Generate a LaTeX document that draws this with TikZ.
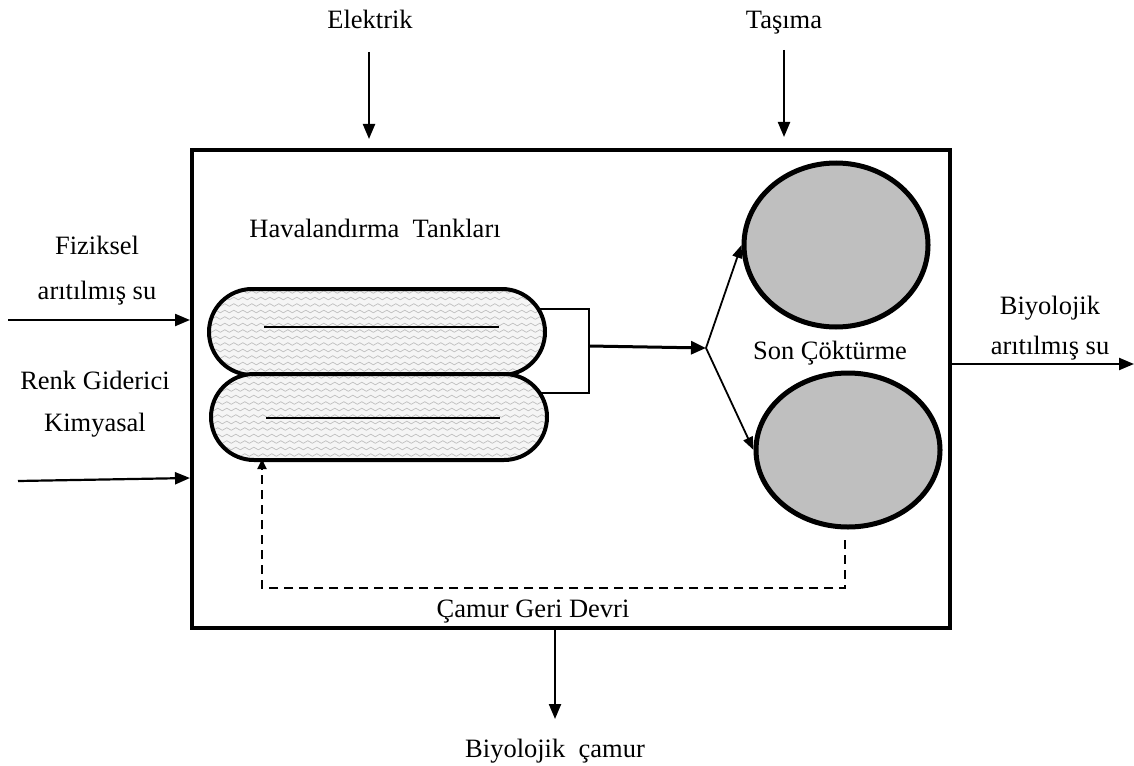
\documentclass[tikz,border=0pt]{standalone}
\usepackage{fontspec}
\setmainfont{Liberation Serif}
\usetikzlibrary{arrows.meta,shapes.misc,shapes.geometric,decorations.pathmorphing,calc}
\begin{document}
\begin{tikzpicture}[x=1pt,y=-1pt,
  lbl/.style={font=\fontsize{26.5}{30}\selectfont, inner sep=0pt, align=center, text height=24pt, text depth=6pt},
  arr/.style={line width=2.2pt, -{Triangle[length=15pt,width=12pt]}},
  thinarr/.style={line width=1.8pt, -{Triangle[length=13pt,width=10pt]}},
  tank/.style={rounded rectangle, draw, line width=4pt, minimum width=336pt, minimum height=86pt,
    inner sep=0pt, fill=gray!8,
    path picture={
      \foreach \k in {0,...,13}{
        \draw[gray!50, line width=0.7pt, decorate, decoration={snake, segment length=9pt, amplitude=1.3pt}]
          ($(path picture bounding box.north west)+(-5,\k*6.5+3)$) -- ++(360,0);
      }
    }},
  clar/.style={ellipse, draw, line width=5pt, fill=gray!50, inner sep=0pt},
  sludge/.style={line width=2pt, dash pattern=on 9pt off 6pt}
]
\useasboundingbox (0,0) rectangle (1134,765);

% main box
\node[draw, line width=4pt, minimum width=758pt, minimum height=478pt, inner sep=0pt] (box) at (571,389) {};

% top inputs
\node[lbl] (elek) at (370,20) {Elektrik};
\node[lbl] (tas) at (784,20) {Taşıma};
\coordinate (elekS) at (369,52);
\coordinate (elekE) at (369,139);
\coordinate (tasS) at (784,50);
\coordinate (tasE) at (784,137);
\draw[arr] (elekS) -- (elekE);
\draw[arr] (tasS) -- (tasE);

% left inputs
\node[lbl] (fiz1) at (97,245) {Fiziksel};
\node[lbl] (fiz2) at (97,290) {arıtılmış su};
\node[lbl] (renk1) at (95,380) {Renk Giderici};
\node[lbl] (renk2) at (95,422) {Kimyasal};
\coordinate (fizS) at (8,320);
\coordinate (fizE) at (190,320);
\coordinate (renkS) at (18,481);
\coordinate (renkE) at (190,478);
\draw[arr] (fizS) -- (fizE);
\draw[arr] (renkS) -- (renkE);

% aeration tanks
\node[lbl] (hav) at (375,228) {Havalandırma\ \ Tankları};
\node[tank] (t1) at (377,332) {};
\node[tank] (t2) at (379,417) {};
\coordinate (l1a) at (264,327); \coordinate (l1b) at (499,327);
\coordinate (l2a) at (266,418); \coordinate (l2b) at (500,418);
\draw[line width=1.5pt] (l1a) -- (l1b);
\draw[line width=1.5pt] (l2a) -- (l2b);

% collector bracket
\coordinate (bA) at (538,309);
\coordinate (bB) at (589,309);
\coordinate (bC) at (589,393);
\coordinate (bD) at (540,393);
\coordinate (bM) at (589,346);
\coordinate (split) at (706,348);
\draw[line width=1.5pt] (bA) -- (bB) -- (bC) -- (bD);
\draw[line width=3pt, -{Triangle[length=15pt,width=13pt]}] (bM) -- (split);

% clarifiers
\node[clar, minimum width=184pt, minimum height=164pt] (c1) at (836,245) {};
\node[clar, minimum width=184pt, minimum height=154pt] (c2) at (848,450) {};
\node[lbl] (son) at (830,350) {Son Çöktürme};
\draw[thinarr] (split) -- (c1.west);
\draw[thinarr] (split) -- (c2.west);

% output water
\node[lbl] (bio1) at (1050,305) {Biyolojik};
\node[lbl] (bio2) at (1050,345) {arıtılmış su};
\coordinate (outS) at (952,364);
\coordinate (outE) at (1134,364);
\draw[arr] (outS) -- (outE);

% sludge recycle
\coordinate (rA) at (845,540);
\coordinate (rB) at (845,588);
\coordinate (rC) at (262,588);
\coordinate (rD) at (262,459);
\draw[sludge, -{Triangle[length=10pt,width=9pt]}] (rA) -- (rB) -- (rC) -- (rD);
\node[lbl] (camur) at (533,608) {Çamur Geri Devri};

% sludge output
\node[lbl] (bcam) at (555,748) {Biyolojik\ \ çamur};
\coordinate (bcS) at (555,630);
\coordinate (bcE) at (555,719);
\draw[arr] (bcS) -- (bcE);
\end{tikzpicture}
\end{document}
